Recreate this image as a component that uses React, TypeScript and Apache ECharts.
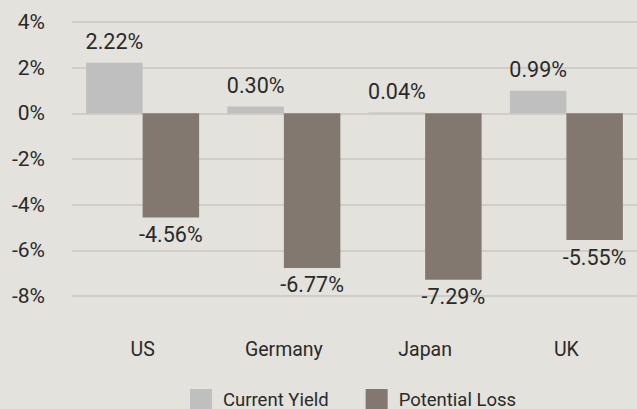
import React, { useEffect, useRef } from "react";
import * as echarts from "echarts";

const categories = ["US", "Germany", "Japan", "UK"];
const currentYield = [2.22, 0.3, 0.04, 0.99];
const potentialLoss = [-4.56, -6.77, -7.29, -5.55];
const seriesNames = ["Current Yield", "Potential Loss"];

const FONT = "Roboto";

export default function App() {
  const ref = useRef<HTMLDivElement>(null);
  useEffect(() => {
    if (!ref.current) return;
    const chart = echarts.init(ref.current, null, { renderer: "svg" });
    chart.setOption({
      animation: false,
      backgroundColor: "#E3E2DC",
      grid: { left: 72, right: -8, top: 22, bottom: 113, containLabel: false },
      legend: {
        data: seriesNames,
        left: 190,
        top: 389,
        padding: 0,
        itemWidth: 22,
        itemHeight: 22,
        itemGap: 37,
        icon: "rect",
        textStyle: {
          fontFamily: FONT,
          fontSize: 18.5,
          color: "#2a2a2a",
          padding: [0, 0, 0, 6],
        },
      },
      xAxis: {
        type: "category",
        data: categories,
        axisLine: { show: false, onZero: false },
        axisTick: { show: false },
        axisLabel: {
          margin: 43,
          fontFamily: FONT,
          fontSize: 19.5,
          color: "#2a2a2a",
        },
      },
      yAxis: {
        type: "value",
        min: -8,
        max: 4,
        interval: 2,
        axisLine: { show: false },
        axisTick: { show: false },
        splitLine: { lineStyle: { color: "#C7C6BF", width: 1.5 } },
        axisLabel: {
          margin: 27,
          fontFamily: FONT,
          fontSize: 21,
          color: "#2a2a2a",
          formatter: (v: number) => `${v}%`,
        },
      },
      series: [
        {
          name: seriesNames[0],
          type: "bar",
          data: currentYield,
          barWidth: "40%",
          barGap: "0%",
          itemStyle: { color: "#BFBFBF" },
          label: {
            show: true,
            position: "top",
            distance: 10,
            fontFamily: FONT,
            fontSize: 21.5,
            color: "#2a2a2a",
            formatter: (p: any) => `${p.value.toFixed(2)}%`,
          },
        },
        {
          name: seriesNames[1],
          type: "bar",
          data: potentialLoss,
          barWidth: "40%",
          barGap: "0%",
          itemStyle: { color: "#82786F" },
          label: {
            show: true,
            position: "bottom",
            distance: 6,
            fontFamily: FONT,
            fontSize: 21.5,
            color: "#2a2a2a",
            formatter: (p: any) => `${p.value.toFixed(2)}%`,
          },
        },
      ],
    });
    return () => chart.dispose();
  }, []);
  return (
    <div
      ref={ref}
      style={{ position: "fixed", left: 0, top: 0, width: 637, height: 409 }}
    />
  );
}
